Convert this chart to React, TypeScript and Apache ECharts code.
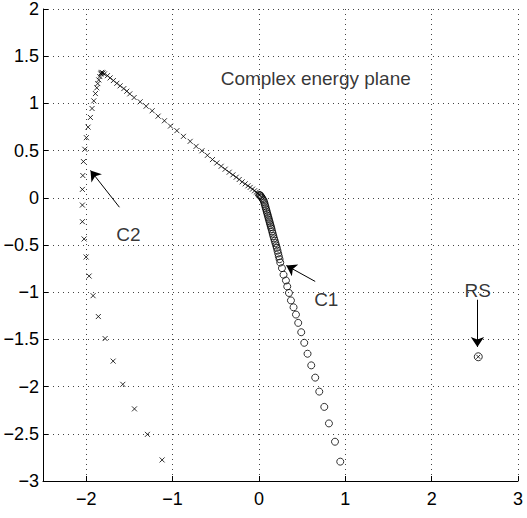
import React, { useEffect, useRef } from "react";
import * as echarts from "echarts";

// C2 trajectory (x markers)
const c2Points: [number, number][] = [
  [0.007, 0.032], [-0.012, 0.046], [-0.031, 0.06], [-0.051, 0.074], [-0.074, 0.092],
  [-0.101, 0.11], [-0.127, 0.127], [-0.159, 0.148], [-0.194, 0.169], [-0.228, 0.194],
  [-0.263, 0.218], [-0.301, 0.243], [-0.344, 0.271], [-0.391, 0.303], [-0.437, 0.334],
  [-0.487, 0.369], [-0.538, 0.405], [-0.596, 0.45], [-0.66, 0.498], [-0.727, 0.545],
  [-0.796, 0.598], [-0.874, 0.651], [-0.95, 0.711], [-1.024, 0.76], [-1.094, 0.816],
  [-1.167, 0.865], [-1.236, 0.922], [-1.306, 0.97], [-1.375, 1.017], [-1.445, 1.062],
  [-1.495, 1.101], [-1.53, 1.129], [-1.564, 1.157], [-1.607, 1.186], [-1.645, 1.213],
  [-1.685, 1.242], [-1.723, 1.27], [-1.754, 1.294], [-1.789, 1.312], [-1.805, 1.322],
  [-1.819, 1.329], [-1.825, 1.322], [-1.831, 1.312], [-1.842, 1.284], [-1.854, 1.249],
  [-1.866, 1.21], [-1.877, 1.165], [-1.893, 1.104], [-1.912, 1.027], [-1.932, 0.946],
  [-1.951, 0.851], [-1.978, 0.749], [-1.998, 0.637], [-2.016, 0.514], [-2.032, 0.384],
  [-2.039, 0.236], [-2.044, 0.089], [-2.044, -0.077], [-2.044, -0.253], [-2.024, -0.436],
  [-2.001, -0.627], [-1.966, -0.829], [-1.92, -1.037], [-1.859, -1.258], [-1.781, -1.491],
  [-1.688, -1.73], [-1.576, -1.976], [-1.441, -2.236], [-1.291, -2.506], [-1.121, -2.777],
];

// C1 trajectory (circles)
const c1Points: [number, number][] = [
  [0.005, 0.03], [0.015, 0.025], [0.025, 0.015], [0.035, 0.0], [0.045, -0.015],
  [0.055, -0.03], [0.062, -0.05], [0.068, -0.07], [0.074, -0.09], [0.08, -0.11],
  [0.086, -0.13], [0.092, -0.15], [0.098, -0.17], [0.104, -0.19], [0.11, -0.21],
  [0.116, -0.23], [0.122, -0.25], [0.128, -0.27], [0.134, -0.29], [0.14, -0.31],
  [0.146, -0.33], [0.153, -0.355], [0.16, -0.38], [0.167, -0.405], [0.175, -0.43],
  [0.183, -0.455], [0.191, -0.48], [0.199, -0.505], [0.207, -0.53], [0.215, -0.56],
  [0.223, -0.59], [0.231, -0.62], [0.239, -0.65], [0.247, -0.686], [0.267, -0.745],
  [0.285, -0.815], [0.313, -0.876], [0.328, -0.939], [0.348, -1.008], [0.371, -1.087],
  [0.401, -1.16], [0.429, -1.237], [0.455, -1.325], [0.49, -1.424], [0.525, -1.536],
  [0.563, -1.652], [0.606, -1.775], [0.652, -1.905], [0.699, -2.053], [0.757, -2.215],
  [0.811, -2.39], [0.881, -2.584], [0.942, -2.795],
];

// Resonant state
const rsPoint: [number, number][] = [[2.54, -1.684]];

// Annotations: text and positions in data units
const labelTexts = ["Complex energy plane", "C2", "C1", "RS"];
const labelPos: [number, number][] = [[0.658, 1.263], [-1.511, -0.386], [0.78, -1.079], [2.533, -0.981]];

// Arrows: [tail, head]
const arrows: [number, number][][] = [
  [[-1.615, -0.1], [-1.95, 0.29]],
  [[0.652, -0.886], [0.317, -0.717]],
  [[2.53, -1.08], [2.53, -1.58]],
];

const xRange = [-2.5, 3];
const yRange = [-3, 2];
const yStep = 0.5;

const FONT = "'Liberation Sans', Arial, Helvetica, sans-serif";
const fmt = (v: number) => String(v).replace("-", "\u2212");

export default function App() {
  const ref = useRef<HTMLDivElement>(null);
  useEffect(() => {
    if (!ref.current) return;
    const chart = echarts.init(ref.current, null, { renderer: "svg" });
    const cross = "path://M0 0L10 10M10 0L0 10";
    const dotted = { color: "#444", width: 1, type: [1, 4] as any };
    chart.setOption({
      animation: false,
      backgroundColor: "#fff",
      grid: { left: 43, right: 9, top: 7, bottom: 37, containLabel: false },
      xAxis: {
        type: "value",
        min: xRange[0],
        max: xRange[1],
        axisLine: { show: true, onZero: false, lineStyle: { color: "#000", width: 1 } },
        axisTick: { show: true, inside: true, length: 5, lineStyle: { color: "#000" } },
        axisLabel: {
          color: "#000",
          fontFamily: FONT,
          fontSize: 18,
          margin: 9,
          formatter: (v: number) => (Number.isInteger(v) ? fmt(v) : ""),
        },
        splitLine: { show: true, lineStyle: dotted },
      },
      yAxis: {
        type: "value",
        min: yRange[0],
        max: yRange[1],
        interval: yStep,
        axisLine: { show: true, onZero: false, lineStyle: { color: "#000", width: 1 } },
        axisTick: { show: true, inside: true, length: 5, lineStyle: { color: "#000" } },
        axisLabel: { color: "#000", fontFamily: FONT, fontSize: 18, margin: 4, formatter: fmt },
        splitLine: { show: true, lineStyle: dotted },
      },
      series: [
        {
          type: "scatter",
          data: c2Points,
          symbol: cross,
          symbolSize: 5,
          itemStyle: { color: "rgba(0,0,0,0)", borderColor: "#000", borderWidth: 1 },
        },
        {
          type: "scatter",
          data: c1Points,
          symbol: "circle",
          symbolSize: 7,
          itemStyle: { color: "rgba(0,0,0,0)", borderColor: "#000", borderWidth: 1 },
        },
        {
          type: "scatter",
          data: rsPoint,
          symbol: "circle",
          symbolSize: 8,
          itemStyle: { color: "rgba(0,0,0,0)", borderColor: "#000", borderWidth: 1 },
        },
        {
          type: "scatter",
          data: rsPoint,
          symbol: cross,
          symbolSize: 4,
          itemStyle: { color: "rgba(0,0,0,0)", borderColor: "#000", borderWidth: 1 },
        },
        {
          type: "lines",
          coordinateSystem: "cartesian2d",
          data: arrows.map((a) => ({ coords: a })),
          symbol: ["none", "arrow"],
          symbolSize: [6, 10],
          lineStyle: { color: "#000", width: 1, opacity: 1 },
          silent: true,
        },
        {
          type: "scatter",
          data: labelPos.map((p, i) => ({ value: p, name: labelTexts[i] })),
          symbolSize: 1,
          itemStyle: { color: "rgba(0,0,0,0)" },
          label: {
            show: true,
            position: "inside",
            formatter: (p: any) => p.name,
            color: "#000",
            fontFamily: FONT,
            fontSize: 19,
          },
          silent: true,
        },
      ],
    });
    return () => chart.dispose();
  }, []);
  return <div ref={ref} style={{ width: 527, height: 518, position: "absolute", left: 0, top: 0 }} />;
}
